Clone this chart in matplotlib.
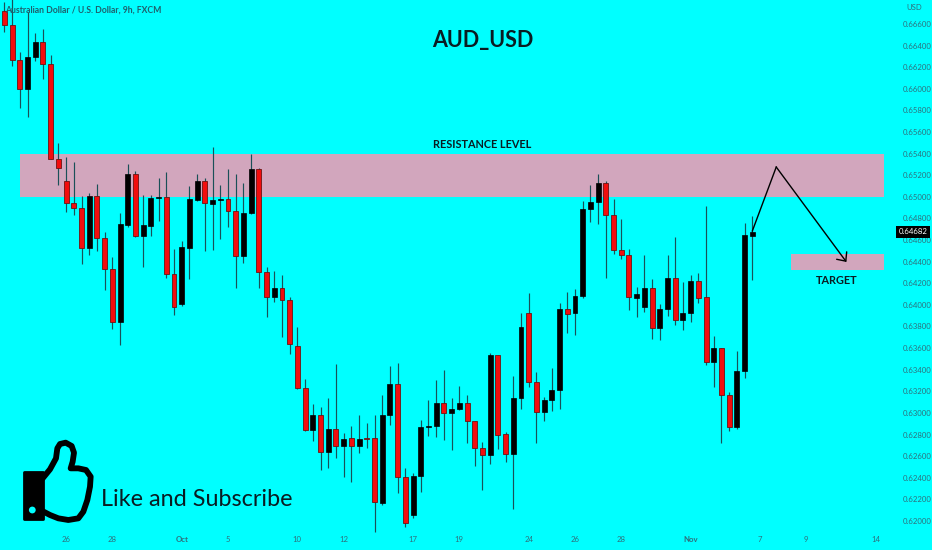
import numpy as np
import matplotlib
matplotlib.use("Agg")
import matplotlib.pyplot as plt

plt.rcParams['font.family'] = ['Lato', 'DejaVu Sans']

# prices in 1e-5 units
opens = [66723,66588,66269,65995,66292,66430,66227,65350,65150,64940,
         64900,64529,65008,64622,64329,63842,64739,65209,64640,64733,
         64989,64999,64283,64006,64529,64971,65144,64937,64968,64977,
         64869,64453,64853,65258,64307,64076,64154,64045,63620,63234,
         62839,62978,62636,62849,62694,62765,62697,62765,62765,62169,
         62978,63265,62410,62053,62414,62867,62879,63095,63000,63037,
         63089,62925,62676,62611,63533,62802,62623,63138,63922,63284,
         63012,63117,63210,63959,63922,64085,64885,64950,65125,64829,
         64505,64462,64067,63981,64156,63783,63965,64249,63863,63922,
         64221,64073,63469,63602,63169,62873,63391,64640]
closes = [66588,66269,65995,66292,66433,66227,65350,65270,64940,64900,
          64529,65008,64622,64329,63842,64746,65209,64640,64737,64992,
          64999,64283,63978,64533,64977,65144,64940,64968,64980,64869,
          64450,64853,65258,64307,64076,64154,64045,63641,63231,62839,
          62978,62636,62849,62691,62762,62697,62762,62760,62173,62978,
          63265,62407,61984,62416,62867,62879,63095,63002,63037,63089,
          62923,62676,62611,63536,62799,62623,63141,63793,63286,63012,
          63120,63210,63959,63919,64085,64888,64952,65125,64829,64505,
          64462,64070,64104,64156,63783,63965,64249,63863,63925,64221,
          64067,63471,63604,63169,62873,63391,64644,64672]
highs = [66803,66830,66344,66714,66514,66551,66313,65496,65372,65320,
         65008,65038,65119,64678,64441,64853,65304,65239,65020,65014,
         65177,65230,64515,64594,65100,65214,65175,65464,65107,65255,
         65214,65131,65399,65264,64348,64317,64277,64070,63798,63311,
         63080,63052,63135,63450,62812,62879,62984,62904,62981,63163,
         63432,63462,62488,62441,62935,63120,63302,63397,63135,63247,
         63163,62928,62728,63552,63536,62824,63342,63928,64107,63382,
         63145,63413,64020,64117,64150,64964,65110,65212,65150,64983,
         64792,64517,64163,64465,64237,64006,64465,64631,64212,64274,
         64298,64915,63715,63604,63191,63573,64761,64823]
lows = [66529,66211,65825,65736,66257,66094,65346,65107,64863,64832,
        64376,64462,64499,64138,63774,63626,64718,64626,64354,64640,
        64779,64246,63906,63990,64237,64966,64502,64508,64607,64724,
        64159,64385,64841,64154,63891,64030,63706,63543,63224,62835,
        62743,62472,62493,62580,62404,62358,62629,62678,61901,62148,
        62888,62256,61942,62030,62271,62789,62774,62750,62657,63027,
        62719,62512,62284,62530,62666,62546,62108,63034,63237,62725,
        62928,63021,63034,63737,63721,64061,64770,64749,64252,64474,
        64422,63950,63891,63937,63684,63678,63900,63811,63765,63842,
        64018,63441,63243,62725,62836,62849,63321,64230]

price_ticks = [0.666,0.664,0.662,0.660,0.658,0.656,0.654,0.652,0.650,0.648,0.646,0.644,
               0.642,0.640,0.638,0.636,0.634,0.632,0.630,0.628,0.626,0.624,0.622,0.620]
date_pos = [8,14,23,29,38,44,53,59,68,74,80,89,98,104,113]
date_labels = ['26','28','Oct','5','10','12','17','19','24','26','28','Nov','7','9','14']

resistance = (0.65000, 0.65397)
target = (0.64323, 0.64471)
last_price = 0.64682
path_x = [97, 100.1, 109.2]
path_y = [0.64684, 0.65276, 0.64397]

o = np.array(opens)/1e5
c = np.array(closes)/1e5
h = np.array(highs)/1e5
l = np.array(lows)/1e5
idx = np.arange(len(o))
up = c >= o

bg = '#00ffff'
axis_col = '#2f6f7c'

fig = plt.figure(figsize=(9.32,5.5),dpi=100,facecolor=bg)
ax = fig.add_axes([0,0,1,1],facecolor=bg)
ax.set_xlim(-0.57,120.3)
ax.set_ylim(0.61731,0.66822)

# zones first, candles on top
ax.fill_between([2.02,114.1],resistance[0],resistance[1],color='#d2a6bd',lw=0,zorder=1)
ax.fill_between([102.0,114.1],target[0],target[1],color='#d2a6bd',lw=0,zorder=1)

ax.vlines(idx,l,h,color='#1a5058',linewidth=0.85,zorder=2)
bottoms = np.minimum(o,c)
heights = np.maximum(np.abs(c-o),0.00003)
ax.bar(idx[up],heights[up],bottom=bottoms[up],width=0.64,color='black',edgecolor='black',linewidth=0.5,zorder=3)
ax.bar(idx[~up],heights[~up],bottom=bottoms[~up],width=0.64,color='#f20d0d',edgecolor='#6e1212',linewidth=0.6,zorder=3)

# drawn path to the target
ax.plot(path_x[:2],path_y[:2],color='black',linewidth=1,zorder=4)
ax.annotate('',xy=(path_x[2],path_y[2]),xytext=(path_x[1],path_y[1]),zorder=4,
            arrowprops=dict(arrowstyle='->,head_length=0.5,head_width=0.45',color='black',lw=1,
                            shrinkA=0,shrinkB=0))

ax.set_yticks(price_ticks)
ax.set_yticklabels(['%.5f'%p for p in price_ticks])
ax.yaxis.tick_right()
ax.tick_params(axis='y',length=0,pad=-21,labelsize=5.6,labelcolor=axis_col)
ax.set_xticks(date_pos)
ax.set_xticklabels(date_labels)
ax.tick_params(axis='x',length=0,pad=-10,labelsize=5.6,labelcolor=axis_col)
for t in ax.get_xticklabels():
    if t.get_text() in ('Oct','Nov'):
        t.set_fontweight('bold')
for s in ax.spines.values():
    s.set_visible(False)

# overlay in pixel coordinates for the texts and the thumb icon
ov = fig.add_axes([0,0,1,1],facecolor='none')
ov.set_xlim(0,932)
ov.set_ylim(550,0)
ov.axis('off')

ov.text(5,10,'Australian Dollar / U.S. Dollar, 9h, FXCM',fontsize=6.2,color='#1f5f6c',va='center',ha='left',fontweight='bold')
ov.text(906,7,'USD',fontsize=5.6,color=axis_col,va='center',ha='left')
ov.text(483,40,'AUD_USD',fontsize=15.5,color='#0a1c22',va='center',ha='center',fontweight='bold')
ov.text(482,144,'RESISTANCE LEVEL',fontsize=7.8,color='#0a1c22',va='center',ha='center',fontweight='bold')
ov.text(837,281,'TARGET',fontsize=7.8,color='#0a1c22',va='center',ha='center',fontweight='bold')
ov.text(101,499,'Like and Subscribe',fontsize=16.8,color='#0a1c22',va='center',ha='left')

ov.text(913,232,'%.5f'%last_price,fontsize=5.6,color='white',va='center',ha='center',
        bbox=dict(boxstyle='square,pad=0.3',fc='black',ec='none'))

# thumbs up
thumb_x = np.array([128,150,168,172,180,197,215,222,218,212,235,258,272,270,262,250,235,205,175,150,125])/3
thumb_y = np.array([625,598,565,535,522,518,528,548,575,595,595,600,620,650,690,725,745,750,745,735,722])/3+270
ov.plot(thumb_x,thumb_y,color='black',linewidth=4.2,solid_joinstyle='round',solid_capstyle='round')
cuff = plt.Rectangle((24,472),19,47,fc='black',ec='black',lw=2,joinstyle='round')
ov.add_patch(cuff)
ov.add_patch(plt.Circle((32.3,510),3.4,fc=bg,ec='none',zorder=5))

fig.savefig('out.png',dpi=100,facecolor=bg)
